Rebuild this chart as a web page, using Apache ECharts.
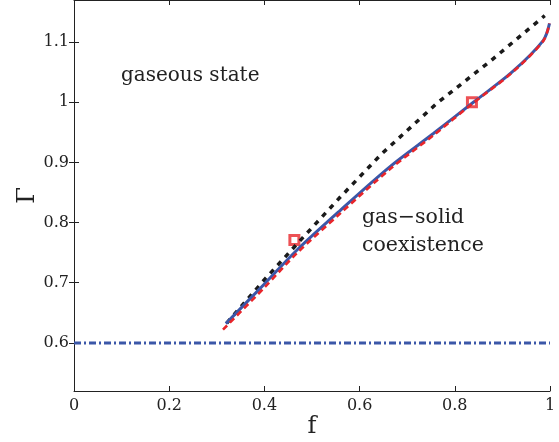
<!DOCTYPE html>
<html>
<head>
<meta charset="utf-8">
<script src="https://cdn.jsdelivr.net/npm/echarts@6/dist/echarts.min.js"></script>
<style>
html,body{margin:0;padding:0;background:#fff;}
#chart{width:559px;height:442px;}
</style>
</head>
<body>
<div id="chart"></div>
<script>
// ---- data ----
const blueF   = [0.319, 0.400, 0.468, 0.559, 0.664, 0.755, 0.839, 0.920, 0.986, 0.999];
const blueG   = [0.632, 0.698, 0.754, 0.820, 0.893, 0.948, 1.000, 1.050, 1.103, 1.131];
const redF    = [0.313, 0.400, 0.468, 0.559, 0.664, 0.755, 0.839, 0.920, 0.986, 0.999];
const redG    = [0.622, 0.692, 0.749, 0.815, 0.889, 0.945, 0.999, 1.049, 1.102, 1.131];
const blackF  = [0.321, 0.400, 0.475, 0.559, 0.646, 0.762, 0.874, 0.989];
const blackG  = [0.633, 0.705, 0.770, 0.842, 0.914, 0.998, 1.068, 1.144];
const lineF   = [0, 1];
const lineG   = [0.6, 0.6];
const squareF = [0.463, 0.836];
const squareG = [0.771, 1.000];
const xTicks  = [0, 0.2, 0.4, 0.6, 0.8, 1];
const yTicks  = [0.6, 0.7, 0.8, 0.9, 1, 1.1];
const labels  = ['gaseous state', 'gas\u2212solid', 'coexistence'];

const zip = (a, b) => a.map((v, i) => [v, b[i]]);
const FONT = 'DejaVu Serif';
const TXT = '#222';

const chart = echarts.init(document.getElementById('chart'), null, {renderer: 'canvas'});

const axisCommon = {
  axisLine: {show: true, lineStyle: {color: '#222', width: 1}},
  splitLine: {show: false}
};

chart.setOption({
  animation: false,
  backgroundColor: '#fff',
  textStyle: {fontFamily: FONT},
  grid: {left: 74, right: 9, top: 0, bottom: 51, containLabel: false, outerBoundsMode: 'none'},
  xAxis: [
    Object.assign({
      type: 'value', min: 0, max: 1, position: 'bottom',
      axisTick: {inside: true, length: 5, customValues: xTicks, lineStyle: {color: '#222'}},
      axisLabel: {customValues: xTicks, fontFamily: FONT, fontSize: 16, color: TXT, margin: 7},
      name: 'f', nameLocation: 'middle', nameGap: 24, nameMoveOverlap: false,
      nameTextStyle: {fontFamily: FONT, fontSize: 24, color: TXT}
    }, axisCommon),
    Object.assign({
      type: 'value', min: 0, max: 1, position: 'top',
      axisTick: {inside: true, length: 5, customValues: xTicks, lineStyle: {color: '#222'}},
      axisLabel: {show: false}
    }, axisCommon)
  ],
  yAxis: [
    Object.assign({
      type: 'value', min: 0.52, max: 1.17, position: 'left',
      axisTick: {inside: true, length: 5, customValues: yTicks, lineStyle: {color: '#222'}},
      axisLabel: {customValues: yTicks, fontFamily: FONT, fontSize: 16, color: TXT, margin: 5},
      name: '\u0393', nameLocation: 'middle', nameGap: 34, nameRotate: 90, nameMoveOverlap: false,
      nameTextStyle: {fontFamily: FONT, fontSize: 24, color: TXT}
    }, axisCommon),
    Object.assign({
      type: 'value', min: 0.52, max: 1.17, position: 'right',
      axisTick: {inside: true, length: 5, customValues: yTicks, lineStyle: {color: '#222'}},
      axisLabel: {show: false}
    }, axisCommon)
  ],
  series: [
    {
      type: 'scatter', data: zip(squareF, squareG), symbol: 'rect', symbolSize: 9, z: 1,
      itemStyle: {color: 'rgba(255,255,255,0)', borderColor: '#e8252a', borderWidth: 3}
    },
    {
      type: 'line', data: zip(lineF, lineG), showSymbol: false, z: 2,
      lineStyle: {color: '#3b57a8', width: 3, type: [7, 3, 2, 3]}
    },
    {
      type: 'line', data: zip(blackF, blackG), showSymbol: false, z: 3,
      lineStyle: {color: '#1a1a1a', width: 3.5, type: [5, 6]}
    },
    {
      type: 'line', data: zip(blueF, blueG), showSymbol: false, smooth: 0.3, z: 4,
      lineStyle: {color: '#3b57a8', width: 3}
    },
    {
      type: 'line', data: zip(redF, redG), showSymbol: false, smooth: 0.3, z: 5,
      lineStyle: {color: '#e8252a', width: 2.6, type: [6, 4]}
    }
  ],
  graphic: [
    {type: 'text', left: 121, top: 66, style: {text: labels[0], fontFamily: FONT, fontSize: 20, fill: TXT}},
    {type: 'text', left: 362, top: 207, style: {text: labels[1], fontFamily: FONT, fontSize: 20.5, fill: TXT}},
    {type: 'text', left: 362, top: 235, style: {text: labels[2], fontFamily: FONT, fontSize: 20.5, fill: TXT}}
  ]
});
</script>
</body>
</html>
